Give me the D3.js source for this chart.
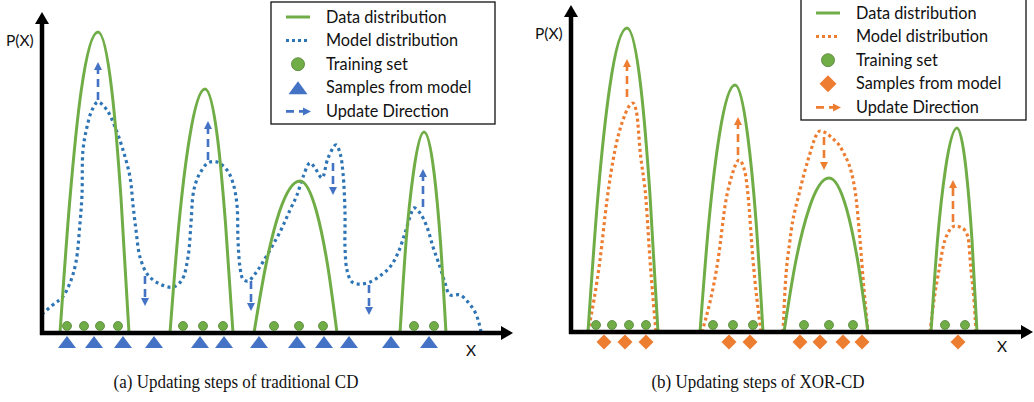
<!DOCTYPE html>
<html>
<head>
<meta charset="utf-8">
<title>CD vs XOR-CD</title>
<script src="https://cdn.jsdelivr.net/npm/d3@7/dist/d3.min.js"></script>
<style>
html, body { margin: 0; padding: 0; background: #fff; }
svg { display: block; }
.lbl { font-family: Lato, 'Open Sans', sans-serif; font-size: 16.3px; fill: #111; }
.axl { font-family: Lato, 'Open Sans', sans-serif; font-size: 15.5px; fill: #111; }
.cap { font-family: 'Liberation Serif', 'Times New Roman', serif; font-size: 17px; fill: #111; }
</style>
</head>
<body>
<svg id="chart" width="1034" height="402"></svg>
<script>
// ---- data, panel (a): traditional CD ----
// x in X units, y in P(X) units
var dataDistA = [
	[[3.6,0],[5.6,45],[7.8,80.3],[11.2,100.3],[14,80.3],[15.8,45],[17.4,0]],
	[[25.6,0],[27.4,36.6],[29.5,65],[32.6,81.3],[35.1,65],[36.7,36.6],[38.2,0]],
	[[42.4,0],[44.8,22.8],[47.5,40.5],[51.6,50.7],[54.9,40.5],[57.1,22.8],[59,0]],
	[[71.6,0],[72.8,30.2],[74.3,53.6],[76.4,67],[78.4,53.6],[79.7,30.2],[80.8,0]]
];
var modelDistA = [
	[0,6.3],[2.6,10],[4,11.7],[5.6,16.7],[6.8,23.7],[7.6,36.7],[8,46],[8.2,61],[9,68.7],
	[10,74.3],[11.2,77],[13,74.3],[14.6,68.7],[16.2,61],[17.6,52],[18.2,42.7],[18.8,34.3],
	[19.6,25.3],[21.2,19.3],[23.6,16.3],[26.2,15.3],[28,17.7],[29.2,25.3],[29.8,36.7],
	[30.2,46],[30.8,50.3],[31.6,53.3],[33.2,56.7],[35,57],[37,54.3],[38.2,50],[39,42.7],
	[39.2,31],[39.6,22],[40.2,18],[41.2,17.3],[42.6,19.7],[44.2,23.7],[47.6,33.7],
	[49.6,41],[51,46],[52.2,52],[53.6,56.7],[54.6,55],[56,51.7],[57.2,58.3],[58.8,62.7],
	[59.6,60],[60.2,53.3],[60.6,40],[60.6,28.7],[61,21],[62,17],[63.6,16.3],[65.6,17],
	[67.6,19],[69.6,22],[71.2,26.7],[72.6,33.3],[73.6,38.7],[74.4,41.7],[75.6,40],[77,35.3],
	[78.2,28.7],[79.6,22],[80.6,16.7],[81.6,12.7],[83.6,12.7],[85.2,10.3],[86.6,7],
	[87.4,3.3],[87.8,0.3]
];
var trainA = [5, 8.4, 11.6, 15.2, 28.2, 32.2, 36.2, 46.4, 51.4, 56.2, 74.4, 78.4];
var samplesA = [5, 10.4, 16.2, 22.4, 31.6, 36.4, 43.4, 51, 56.4, 61.4, 69.8, 77.4];
// [x, from, to]
var updatesA = [
	[11.2, 77.7, 90.3], [33.2, 57.7, 70.7], [20.6, 19, 9], [41.8, 17.3, 7.3],
	[58.2, 56.7, 46], [65.4, 16, 6], [76.2, 42, 54.7]
];

// ---- data, panel (b): XOR-CD ----
var dataDistB = [
	[[3.4,0],[5.4,45.6],[7.7,81.1],[11.2,101.3],[14,81.1],[15.8,45.6],[17.4,0]],
	[[25.8,0],[27.6,37.1],[29.7,65.9],[32.8,82.3],[35.3,65.9],[37,37.1],[38.4,0]],
	[[42.6,0],[44.9,23.1],[47.6,41.1],[51.6,51.3],[55.1,41.1],[57.4,23.1],[59.4,0]],
	[[72,0],[73.3,30.6],[74.9,54.4],[77.2,68],[79,54.4],[80.2,30.6],[81.2,0]]
];
var modelDistB = [
	[[3.4,0],[5.8,24],[7.2,44],[8.8,60.7],[10.4,70.7],[12.4,76.3],[13.2,72.3],[13.8,60.7],[15,44],[15.8,24],[17,0]],
	[[26.2,0],[29.4,24],[31,44],[32.2,52.3],[33.6,57.3],[34.8,53.3],[35.4,45.7],[36.4,24],[38,0]],
	[[42.4,0],[42.8,14],[43.8,30.7],[45.8,47.3],[47.4,57.3],[49.8,67],[52.2,64.7],[54.2,60.7],[56.8,47.3],[57.8,30.7],[58.6,14],[59.4,0]],
	[[71.8,0],[72.6,10.7],[73.6,20.7],[74.8,30.7],[76.8,35.3],[78.2,34.7],[79.4,31.7],[80,20.7],[80.6,10.7],[81,0]]
];
var trainB = [5, 8.2, 11.6, 15, 28.4, 32.4, 36.4, 46.6, 51.6, 56.4, 74.8, 78.8];
var samplesB = [6.6, 10.8, 15, 31.6, 35.8, 45.8, 49.8, 54.4, 58.2, 77.4];
var updatesB = [[11.2, 78.3, 91], [33.4, 59, 71.7], [50.6, 65, 54], [76.4, 36.7, 50.7]];

var legendLabels = ['Data distribution', 'Model distribution', 'Training set', 'Samples from model', 'Update Direction'];
var captions = ['(a) Updating steps of traditional CD', '(b) Updating steps of XOR-CD'];

// ---- colours ----
var GREEN = '#70ad47';
var GREEN_DARK = '#548235';
var BLUE_LINE = '#2e75b6';
var BLUE = '#4472c4';
var ORANGE = '#ed7d31';

var svg = d3.select('#chart');
svg.append('rect').attr('width', 1034).attr('height', 402).attr('fill', '#fff');

var line = d3.line().curve(d3.curveMonotoneX);
var smooth = d3.line().curve(d3.curveCatmullRom.alpha(0.5));

var drawAxes = function (g, x, y, xMax, yMax) {
	var x0 = x(0), y0 = y(0);
	g.append('line').attr('x1', x0).attr('y1', y0 + 2).attr('x2', x0).attr('y2', y(yMax) + 10)
		.attr('stroke', '#000').attr('stroke-width', 4.5);
	g.append('path').attr('d', d3.line()([[x0 - 7, y(yMax) + 12], [x0 + 7, y(yMax) + 12], [x0, y(yMax)]]) + 'Z')
		.attr('fill', '#000');
	g.append('line').attr('x1', x0 - 2).attr('y1', y0).attr('x2', x(xMax) - 10).attr('y2', y0)
		.attr('stroke', '#000').attr('stroke-width', 4.5);
	g.append('path').attr('d', d3.line()([[x(xMax) - 12, y0 - 7], [x(xMax) - 12, y0 + 7], [x(xMax), y0]]) + 'Z')
		.attr('fill', '#000');
};

var drawArrow = function (g, px, py0, py1, color) {
	var s = Math.sign(py1 - py0);
	var head = 8;
	g.append('line').attr('x1', px).attr('y1', py0).attr('x2', px).attr('y2', py1 - s * head)
		.attr('stroke', color).attr('stroke-width', 2.6).attr('stroke-dasharray', '8,5');
	g.append('path').attr('d', d3.line()([[px - 4, py1 - s * head], [px + 4, py1 - s * head], [px, py1]]) + 'Z')
		.attr('fill', color);
};

var triangle = function (cx, cy, w, h) {
	return d3.line()([[cx - w / 2, cy + h / 2], [cx + w / 2, cy + h / 2], [cx, cy - h / 2]]) + 'Z';
};
var diamond = function (cx, cy, r) {
	return d3.line()([[cx, cy - r], [cx + r, cy], [cx, cy + r], [cx - r, cy]]) + 'Z';
};

var drawPanel = function (opt) {
	var g = svg.append('g');
	var x = d3.scaleLinear().domain([0, opt.xMax]).range(opt.xRange);
	var y = d3.scaleLinear().domain([0, opt.yMax]).range(opt.yRange);
	line.x(function (d) { return x(d[0]); }).y(function (d) { return y(d[1]); });
	smooth.x(function (d) { return x(d[0]); }).y(function (d) { return y(d[1]); });

	// model distribution
	if (opt.modelSingle) {
		g.append('path').attr('d', smooth(opt.model))
			.attr('fill', 'none').attr('stroke', opt.modelColor).attr('stroke-width', 3.2)
			.attr('stroke-dasharray', '3,3.4');
	} else {
		g.selectAll('path.model').data(opt.model).enter().append('path').attr('class', 'model')
			.attr('d', line)
			.attr('fill', 'none').attr('stroke', opt.modelColor).attr('stroke-width', 3.2)
			.attr('stroke-dasharray', '3,3');
	}
	// data distribution
	g.selectAll('path.data').data(opt.data).enter().append('path').attr('class', 'data')
		.attr('d', line)
		.attr('fill', 'none').attr('stroke', GREEN).attr('stroke-width', 3);

	drawAxes(g, x, y, opt.xMax, opt.yMax);

	// training set
	g.selectAll('circle.train').data(opt.train).enter().append('circle')
		.attr('cx', function (d) { return x(d); }).attr('cy', y(0) - 7).attr('r', 4.5)
		.attr('fill', GREEN).attr('stroke', GREEN_DARK).attr('stroke-width', 0.8);

	// samples
	g.selectAll('path.sample').data(opt.samples).enter().append('path')
		.attr('d', function (d) {
			return opt.marker === 'tri' ? triangle(x(d), y(0) + 9, 18, 12) : diamond(x(d), y(0) + 10, 7.5);
		})
		.attr('fill', opt.markerColor);

	// update direction
	opt.updates.forEach(function (u) {
		drawArrow(g, x(u[0]), y(u[1]), y(u[2]), opt.markerColor);
	});

	g.append('text').attr('class', 'axl').attr('x', x(0) - 36).attr('y', opt.pxY).text('P(X)');
	g.append('text').attr('class', 'axl').attr('x', opt.xLabel[0]).attr('y', opt.xLabel[1])
		.attr('text-anchor', 'middle').text('X');

	// legend
	var L = opt.legend;
	var lg = g.append('g');
	lg.append('rect').attr('x', L.x).attr('y', L.y).attr('width', L.w).attr('height', L.h)
		.attr('fill', '#fff').attr('stroke', '#111').attr('stroke-width', 1.3);
	var sx = L.x + 27, tx = L.x + 55;
	legendLabels.forEach(function (t, i) {
		var ry = L.y + L.top + i * L.step;
		if (i === 0) {
			lg.append('line').attr('x1', sx - 12).attr('x2', sx + 12).attr('y1', ry).attr('y2', ry)
				.attr('stroke', GREEN).attr('stroke-width', 3);
		} else if (i === 1) {
			lg.append('line').attr('x1', sx - 12).attr('x2', sx + 12).attr('y1', ry).attr('y2', ry)
				.attr('stroke', opt.modelColor).attr('stroke-width', 3).attr('stroke-dasharray', '3,3');
		} else if (i === 2) {
			lg.append('circle').attr('cx', sx).attr('cy', ry).attr('r', 6.5)
				.attr('fill', GREEN).attr('stroke', GREEN_DARK).attr('stroke-width', 0.8);
		} else if (i === 3) {
			lg.append('path').attr('d', opt.marker === 'tri' ? triangle(sx, ry, 19, 13) : diamond(sx, ry, 8.5))
				.attr('fill', opt.markerColor);
		} else {
			lg.append('line').attr('x1', sx - 12).attr('x2', sx + 5).attr('y1', ry).attr('y2', ry)
				.attr('stroke', opt.markerColor).attr('stroke-width', 2.6).attr('stroke-dasharray', '8,5');
			lg.append('path').attr('d', d3.line()([[sx + 5, ry - 4], [sx + 5, ry + 4], [sx + 13, ry]]) + 'Z')
				.attr('fill', opt.markerColor);
		}
		lg.append('text').attr('class', 'lbl').attr('x', tx).attr('y', ry + 5.5).text(t);
	});

	svg.append('text').attr('class', 'cap')
		.attr('transform', 'translate(' + opt.capX + ',388) scale(1,1.12)')
		.attr('text-anchor', 'middle')
		.text(opt.caption);
};

drawPanel({
	xMax: 94.2, yMax: 107, xRange: [42, 513], yRange: [333, 12],
	data: dataDistA, model: modelDistA, modelSingle: true, modelColor: BLUE_LINE,
	train: trainA, samples: samplesA, updates: updatesA,
	marker: 'tri', markerColor: BLUE,
	pxY: 46, xLabel: [471, 356],
	legend: { x: 271, y: 2, w: 224, h: 122, top: 15, step: 23.6 },
	capX: 236, caption: captions[0]
});

drawPanel({
	xMax: 92.4, yMax: 109, xRange: [571, 1033], yRange: [332, 5],
	data: dataDistB, model: modelDistB, modelSingle: false, modelColor: ORANGE,
	train: trainB, samples: samplesB, updates: updatesB,
	marker: 'dia', markerColor: ORANGE,
	pxY: 39, xLabel: [1002, 352],
	legend: { x: 801, y: -2, w: 225, h: 122, top: 15, step: 23.6 },
	capX: 758, caption: captions[1]
});
</script>
</body>
</html>
